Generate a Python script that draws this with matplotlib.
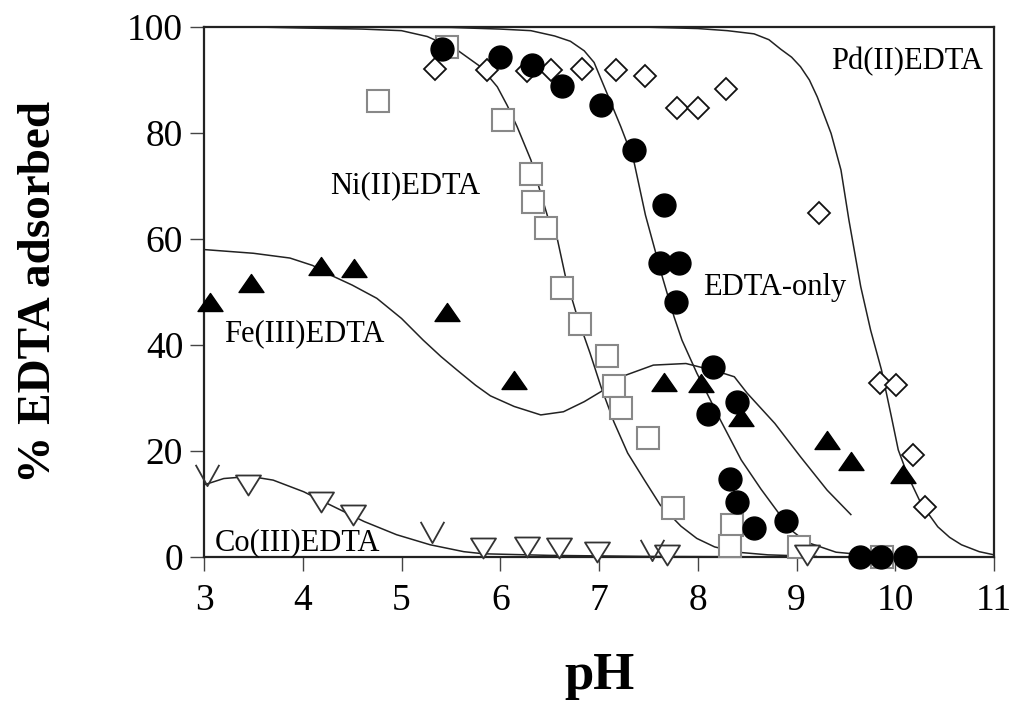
import matplotlib.pyplot as plt
from matplotlib.path import Path

plt.rcParams['font.family'] = ['Liberation Serif', 'DejaVu Serif']

# EDTA-only (filled circles)
edta_x = [5.41, 6.00, 6.32, 6.63, 7.02, 7.35, 7.66, 7.62, 7.81, 7.78, 8.15, 8.40, 8.10, 8.33, 8.40, 8.89, 8.57, 9.64, 9.86, 10.10]
edta_y = [95.8, 94.3, 92.8, 88.9, 85.2, 76.8, 66.4, 55.4, 55.4, 48.2, 35.9, 29.3, 27.0, 14.8, 10.4, 6.7, 5.4, 0, 0, 0]

# Ni(II)EDTA (open squares)
ni_x = [4.76, 5.46, 6.03, 6.31, 6.33, 6.46, 6.63, 6.81, 7.08, 7.15, 7.22, 7.50, 7.75, 8.35, 8.33, 9.02, 9.87]
ni_y = [86.0, 96.2, 82.5, 72.3, 67.0, 62.0, 50.8, 44.0, 38.0, 32.3, 28.1, 22.4, 9.2, 6.0, 2.0, 1.9, 0.0]

# Pd(II)EDTA (open diamonds)
pd_x = [5.34, 5.87, 6.27, 6.51, 6.83, 7.17, 7.47, 7.79, 8.00, 8.29, 9.23, 9.85, 10.01, 10.18, 10.30]
pd_y = [92.0, 91.9, 91.6, 91.9, 92.0, 91.9, 90.8, 84.8, 84.8, 88.3, 64.9, 32.9, 32.5, 19.2, 9.5]

# Fe(III)EDTA (filled triangles)
fe_x = [3.06, 3.48, 4.18, 4.52, 5.46, 6.14, 7.66, 8.03, 8.44, 9.31, 9.55, 10.08]
fe_y = [48.2, 51.6, 54.9, 54.6, 46.3, 33.4, 33.1, 32.8, 26.5, 22.1, 18.2, 15.7]

# Co(III)EDTA (open down triangles + open v)
co_x = [3.45, 4.18, 4.51, 5.82, 6.27, 6.59, 6.98, 7.69, 9.11]
co_y = [13.6, 10.4, 7.9, 1.6, 1.9, 1.6, 1.0, 0.4, 0.4]
cov_x = [3.03, 5.31, 7.54]
cov_y = [15.5, 4.8, 1.3]

# model curves
edta_cx = [3.0, 5.5, 6.0, 6.31, 6.55, 6.71, 6.85, 6.95, 7.08, 7.22, 7.35, 7.47, 7.64, 7.76, 7.84, 7.99, 8.23, 8.44, 8.64, 8.81, 8.95, 9.1, 9.4, 9.8]
edta_cy = [100, 99.9, 99.6, 99.3, 98.3, 97.3, 95.5, 93.3, 87.5, 81.2, 74.9, 64.5, 52.9, 45.3, 40.9, 34.7, 25.8, 18.3, 12.8, 8.5, 5.0, 2.8, 0.9, 0.2]
ni_cx = [3.5, 4.0, 4.6, 5.0, 5.26, 5.56, 5.80, 5.97, 6.07, 6.17, 6.31, 6.48, 6.58, 6.66, 6.78, 6.91, 7.02, 7.15, 7.29, 7.46, 7.62, 7.83, 7.99, 8.17, 8.4, 8.71, 9.2]
ni_cy = [100, 99.8, 99.6, 99.3, 98.2, 95.7, 92.5, 88.7, 85.2, 81.2, 74.9, 64.2, 59.8, 52.9, 45.3, 38.4, 32.1, 25.5, 19.6, 14.5, 9.8, 5.8, 3.5, 1.9, 0.9, 0.4, 0.1]
pd_cx = [3.0, 7.5, 8.0, 8.3, 8.57, 8.72, 8.84, 8.95, 9.04, 9.13, 9.21, 9.35, 9.45, 9.53, 9.65, 9.75, 9.86, 9.96, 10.03, 10.13, 10.26, 10.43, 10.55, 10.67, 10.85, 11.0]
pd_cy = [100, 99.95, 99.7, 99.3, 98.7, 97.6, 95.8, 94.3, 92.5, 90.0, 86.8, 79.9, 73.0, 63.6, 51.0, 42.8, 35.3, 26.5, 20.2, 15.2, 10.1, 5.7, 3.7, 2.3, 1.0, 0.4]
fe_cx = [3.0, 3.5, 3.87, 4.1, 4.28, 4.5, 4.75, 5.0, 5.22, 5.4, 5.56, 5.75, 5.90, 6.14, 6.41, 6.64, 6.85, 7.02, 7.27, 7.55, 7.88, 8.2, 8.37, 8.50, 8.78, 9.04, 9.31, 9.55]
fe_cy = [58.0, 57.3, 56.4, 55.0, 53.2, 51.3, 48.8, 45.0, 40.9, 37.8, 35.3, 32.4, 30.4, 28.4, 26.8, 27.4, 29.3, 31.2, 34.3, 36.2, 36.5, 35.0, 34.0, 30.9, 25.2, 18.9, 12.6, 8.0]
co_cx = [3.0, 3.2, 3.47, 3.70, 4.01, 4.28, 4.62, 4.95, 5.29, 5.63, 5.83, 6.5, 7.5, 9.0]
co_cy = [13.6, 14.8, 15.2, 14.5, 12.3, 9.8, 6.7, 4.2, 2.3, 1.0, 0.6, 0.3, 0.1, 0.0]

tri_up = Path([(0, 0.36), (-0.5, -0.36), (0.5, -0.36), (0, 0.36)], closed=True)
tri_dn = Path([(0, -0.4), (-0.5, 0.4), (0.5, 0.4), (0, -0.4)], closed=True)
vee = Path([(-0.5, 0.45), (0, -0.45), (0.5, 0.45)])

fig = plt.figure(figsize=(10.16, 7.02), dpi=100)
ax = fig.add_axes([0.2008, 0.2066, 0.7776, 0.755])

for cx, cy in [(edta_cx, edta_cy), (ni_cx, ni_cy), (pd_cx, pd_cy), (fe_cx, fe_cy), (co_cx, co_cy)]:
    ax.plot(cx, cy, color='#222222', lw=1.1, zorder=1)

ax.plot(ni_x, ni_y, 's', ms=16, mfc='white', mec='#888888', mew=1.5, ls='none', zorder=3, clip_on=False)
ax.plot(pd_x, pd_y, 'D', ms=11.5, mfc='white', mec='#111111', mew=1.3, ls='none', zorder=3, clip_on=False)
ax.plot(co_x, co_y, marker=tri_dn, ms=18, mfc='white', mec='#333333', mew=1.3, ls='none', zorder=3, clip_on=False)
ax.plot(cov_x, cov_y, marker=vee, ms=17, mfc='none', mec='#333333', mew=1.3, ls='none', zorder=3, clip_on=False)
ax.plot(fe_x, fe_y, marker=tri_up, ms=18, mfc='black', mec='black', ls='none', zorder=4, clip_on=False)
ax.plot(edta_x, edta_y, 'o', ms=16.5, mfc='black', mec='black', ls='none', zorder=5, clip_on=False)

fs = 22
ax.text(9.35, 92.0, 'Pd(II)EDTA', fontsize=fs, va='baseline')
ax.text(4.28, 68.6, 'Ni(II)EDTA', fontsize=fs, va='baseline')
ax.text(8.05, 49.4, 'EDTA-only', fontsize=fs, va='baseline')
ax.text(3.20, 40.8, 'Fe(III)EDTA', fontsize=fs, va='baseline')
ax.text(3.11, 1.2, 'Co(III)EDTA', fontsize=fs, va='baseline')

ax.set_xlim(3, 11)
ax.set_ylim(0, 100)
ax.set_xticks(range(3, 12))
ax.set_yticks(range(0, 101, 20))
ax.tick_params(direction='out', length=10, width=1, labelsize=27, color='#444444')
ax.tick_params(axis='x', pad=9)
ax.tick_params(axis='y', pad=5)
for s in ax.spines.values():
    s.set_linewidth(1.6)
    s.set_color('#222222')

ax.set_xlabel('pH', fontsize=38, fontweight='bold')
ax.set_ylabel('% EDTA adsorbed', fontsize=34, fontweight='bold')
ax.xaxis.set_label_coords(0.5, -0.18)
ax.yaxis.set_label_coords(-0.182, 0.5)

plt.savefig('out.png', dpi=100)
